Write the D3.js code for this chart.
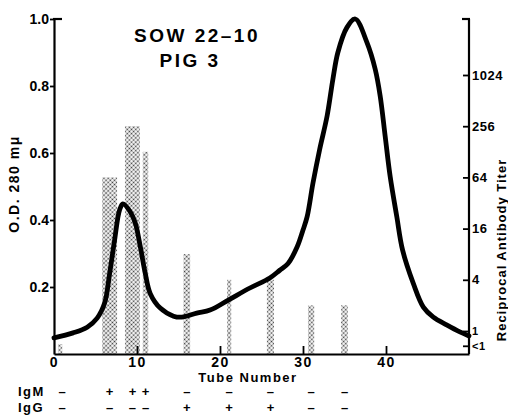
<!DOCTYPE html>
<html>
<head>
<meta charset="utf-8">
<script src="https://cdn.jsdelivr.net/npm/d3@7"></script>
<style>
  html, body { margin: 0; padding: 0; background: #fff; }
  svg { display: block; font-family: "Liberation Sans", Arial, sans-serif; font-weight: bold; }
</style>
</head>
<body>
<svg id="chart" width="508" height="416"></svg>
<script>
// ---- data ----
const curveTube = [0, 2.3, 4, 5.2, 6.1, 6.7, 7.3, 7.9, 8.3, 9.2, 9.8, 10.4, 11, 11.6, 12.8, 14.4, 15.4, 17.2, 18.8, 21, 23.6, 26, 27.2, 28.2, 29.3, 30, 30.5, 31.2, 32, 32.9, 33.6, 34.2, 35.3, 36.3, 37.7, 38.7, 39.3, 39.9, 40.5, 41.3, 42, 43.3, 44.5, 45.7, 47.3, 48.9, 50];
const curveOD   = [0.048, 0.063, 0.08, 0.107, 0.152, 0.24, 0.34, 0.43, 0.448, 0.424, 0.39, 0.32, 0.24, 0.18, 0.137, 0.113, 0.11, 0.122, 0.131, 0.161, 0.197, 0.227, 0.25, 0.27, 0.32, 0.37, 0.41, 0.51, 0.61, 0.71, 0.82, 0.9, 0.975, 1.0, 0.93, 0.85, 0.77, 0.65, 0.53, 0.41, 0.31, 0.21, 0.14, 0.11, 0.087, 0.066, 0.054];

const barStart = [0.5, 5.8, 8.55, 10.7, 15.6, 20.85, 25.65, 30.6, 34.6];
const barEnd   = [1.0, 7.6, 10.35, 11.35, 16.4, 21.35, 26.5, 31.35, 35.4];
const barTiter = [0.7, 64, 256, 128, 8, 4, 4, 2, 2];
const igM = ["–", "+", "+", "+", "–", "–", "–", "–", "–"];
const igG = ["–", "–", "–", "–", "+", "+", "+", "–", "–"];

const odTicks = [0.2, 0.4, 0.6, 0.8, 1.0];
const tubeTicks = [0, 10, 20, 30, 40];
const titerTicks = [0.67, 1, 4, 16, 64, 256, 1024];
const titerTickLabels = ["<1", "1", "4", "16", "64", "256", "1024"];

const titleLines = ["SOW 22–10", "PIG 3"];

// ---- scales ----
const svg = d3.select("#chart");
const x = d3.scaleLinear().domain([0, 50]).range([54, 469]);
const y = d3.scaleLinear().domain([0, 1]).range([354, 19]);
const yT = d3.scaleLog().base(2).domain([1, 1024]).range([331, 75]);

// stipple pattern
const defs = svg.append("defs");
const pat = defs.append("pattern").attr("id", "stip")
  .attr("patternUnits", "userSpaceOnUse").attr("width", 3).attr("height", 3)
  .attr("patternTransform", "rotate(45)");
pat.append("rect").attr("width", 3).attr("height", 3).attr("fill", "#fff");
pat.append("circle").attr("cx", 1.5).attr("cy", 1.5).attr("r", 0.95).attr("fill", "#3a3a3a");

// ---- bars ----
const bars = barStart.map((s, i) => ({ s, e: barEnd[i], t: barTiter[i], m: igM[i], g: igG[i] }));
svg.append("g").selectAll("rect").data(bars).join("rect")
  .attr("x", d => x(d.s))
  .attr("width", d => x(d.e) - x(d.s))
  .attr("y", d => yT(d.t))
  .attr("height", d => y(0) - yT(d.t))
  .attr("fill", "url(#stip)");

// ---- curve ----
const pts = curveTube.map((t, i) => [t, curveOD[i]]);
svg.append("path").datum(pts)
  .attr("fill", "none").attr("stroke", "#000").attr("stroke-width", 4.8)
  .attr("stroke-linejoin", "round").attr("stroke-linecap", "round")
  .attr("d", d3.line().x(d => x(d[0])).y(d => y(d[1])).curve(d3.curveCatmullRom.alpha(0.5)));

// ---- axes ----
const axL = svg.append("g").attr("transform", `translate(${x(0)},0)`)
  .call(d3.axisLeft(y).tickValues(odTicks).tickSize(4).tickSizeOuter(0).tickPadding(1).tickFormat(d3.format(".1f")));
const axR = svg.append("g").attr("transform", `translate(${x(50)},0)`)
  .call(d3.axisRight(yT).tickValues(titerTicks).tickSize(-6).tickSizeOuter(0).tickPadding(3)
    .tickFormat((d, i) => titerTickLabels[i]));
axR.select(".domain").attr("d", `M0,${y(1)}V${y(0)}`);
const axB = svg.append("g").attr("transform", `translate(0,${y(0)})`)
  .call(d3.axisBottom(x).tickValues(tubeTicks).tickSize(-8).tickSizeOuter(0).tickPadding(3));
axB.selectAll(".tick").filter(d => d === 0).select("line").remove();

[axL, axR, axB].forEach(a => {
  a.select(".domain").attr("stroke", "#000").attr("stroke-width", 2.2);
  a.selectAll(".tick line").attr("stroke", "#000").attr("stroke-width", 1.8);
  a.selectAll("text").attr("font-family", "Liberation Sans, Arial, sans-serif")
    .attr("font-weight", "bold").attr("font-size", 14).attr("fill", "#000");
});
axB.selectAll("text").attr("letter-spacing", 1.5);
axR.selectAll("text").attr("font-size", 13).attr("letter-spacing", 0.5);
axR.selectAll(".tick").filter(d => d < 2).select("text").attr("font-size", 11);

// top hooks
svg.append("line").attr("x1", x(0) - 1).attr("x2", x(0) + 8).attr("y1", y(1)).attr("y2", y(1))
  .attr("stroke", "#000").attr("stroke-width", 2.2);
svg.append("line").attr("x1", x(50) - 7).attr("x2", x(50) + 1).attr("y1", y(1)).attr("y2", y(1))
  .attr("stroke", "#000").attr("stroke-width", 2.2);

// ---- titles ----
svg.append("text").attr("x", 197).attr("y", 42).attr("text-anchor", "middle")
  .attr("font-size", 19).attr("letter-spacing", 2.5).text(titleLines[0]);
svg.append("text").attr("x", 190).attr("y", 67).attr("text-anchor", "middle")
  .attr("font-size", 19).attr("letter-spacing", 2.5).text(titleLines[1]);

// axis titles
svg.append("text").attr("transform", "translate(19,184) rotate(-90)").attr("text-anchor", "middle")
  .attr("font-size", 14).attr("letter-spacing", 1.5).text("O.D. 280 mμ");
svg.append("text").attr("transform", "translate(506,250) rotate(-90)").attr("text-anchor", "middle")
  .attr("font-size", 13).attr("letter-spacing", 1).text("Reciprocal Antibody Titer");
svg.append("text").attr("x", 248).attr("y", 382).attr("text-anchor", "middle")
  .attr("font-size", 13).attr("letter-spacing", 1.5).text("Tube Number");

// Ig rows
svg.append("text").attr("x", 18).attr("y", 396).attr("font-size", 13).attr("letter-spacing", 1.5).text("IgM");
svg.append("text").attr("x", 18).attr("y", 412).attr("font-size", 13).attr("letter-spacing", 1.5).text("IgG");
svg.append("g").selectAll("text.m").data(bars).join("text").attr("class", "m")
  .attr("x", (d, i) => i === 0 ? 62 : x((d.s + d.e) / 2)).attr("y", 396)
  .attr("text-anchor", "middle").attr("font-size", 13).text(d => d.m);
svg.append("g").selectAll("text.g").data(bars).join("text").attr("class", "g")
  .attr("x", (d, i) => i === 0 ? 62 : x((d.s + d.e) / 2)).attr("y", 412)
  .attr("text-anchor", "middle").attr("font-size", 13).text(d => d.g);
</script>
</body>
</html>
